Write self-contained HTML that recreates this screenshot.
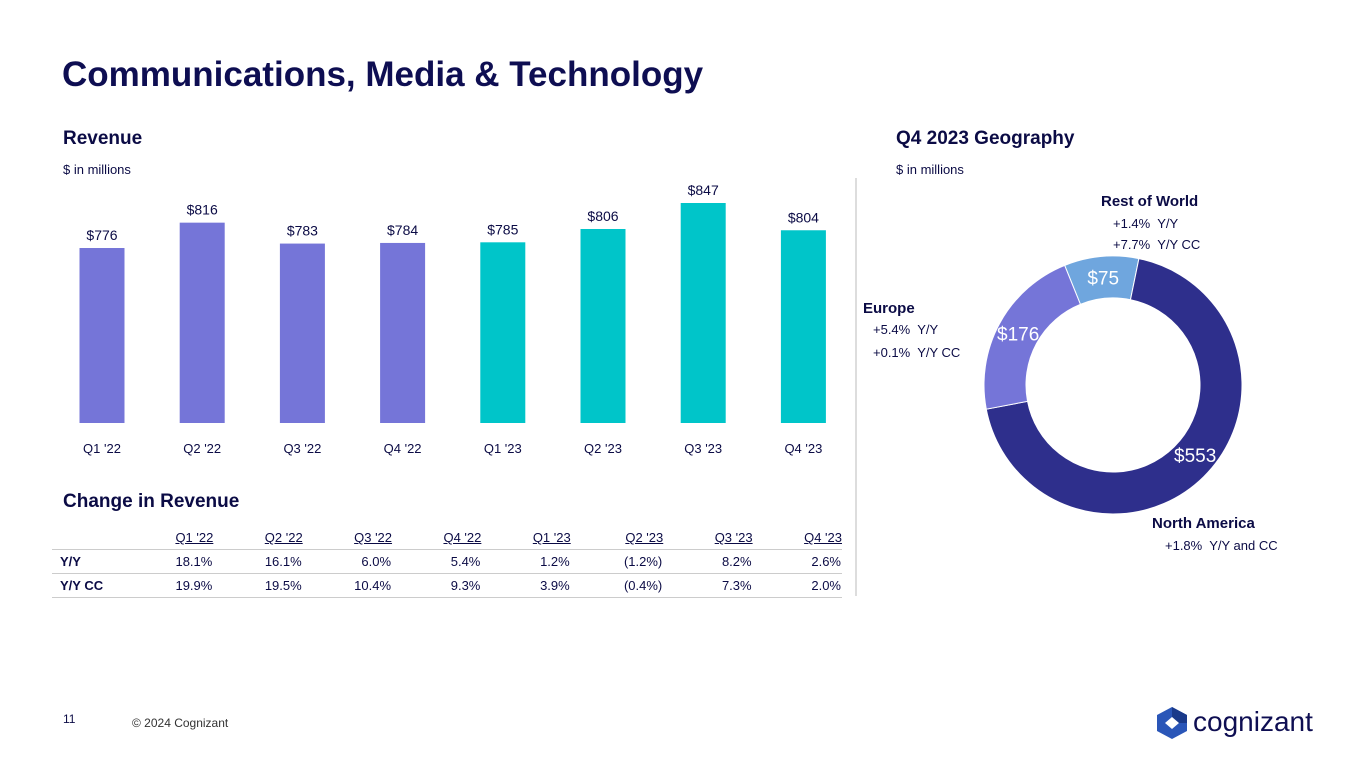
<!DOCTYPE html>
<html><head><meta charset="utf-8">
<style>
body{margin:0;width:1365px;height:768px;background:#fff;font-family:"Liberation Sans",sans-serif;color:#0b0b45;position:relative;overflow:hidden}
.a{position:absolute;white-space:nowrap}
table{border-collapse:collapse;font-size:13px}
</style></head><body>
<div class="a" style="left:62px;top:55px;font-size:35px;font-weight:bold;color:#0e0e52">Communications, Media &amp; Technology</div>
<div class="a" style="left:63px;top:128px;font-size:19px;font-weight:bold">Revenue</div>
<div class="a" style="left:63px;top:162px;font-size:13px">$ in millions</div>
<div class="a" style="left:896px;top:128px;font-size:19px;font-weight:bold">Q4 2023 Geography</div>
<div class="a" style="left:896px;top:162px;font-size:13px">$ in millions</div>
<div class="a" style="left:855px;top:178px;width:2px;height:418px;background:#ddd"></div>

<svg class="a" id="bars" style="left:0;top:0" width="860" height="470"></svg>

<div class="a" style="left:63px;top:491px;font-size:19px;font-weight:bold">Change in Revenue</div>
<table class="a" style="left:52px;top:527px;width:790px">
<tbody id="tb"></tbody></table>

<svg class="a" id="donut" style="left:860px;top:180px" width="505" height="400"></svg>

<div class="a" style="left:1101px;top:193px;font-size:15px;font-weight:bold">Rest of World</div>
<div class="a" style="left:1113px;top:216px;font-size:13px">+1.4%&nbsp; Y/Y</div>
<div class="a" style="left:1113px;top:237px;font-size:13px">+7.7%&nbsp; Y/Y CC</div>
<div class="a" style="left:863px;top:300px;font-size:15px;font-weight:bold">Europe</div>
<div class="a" style="left:873px;top:322px;font-size:13px">+5.4%&nbsp; Y/Y</div>
<div class="a" style="left:873px;top:345px;font-size:13px">+0.1%&nbsp; Y/Y CC</div>
<div class="a" style="left:1152px;top:515px;font-size:15px;font-weight:bold">North America</div>
<div class="a" style="left:1165px;top:538px;font-size:13px">+1.8%&nbsp; Y/Y and CC</div>

<div class="a" style="left:63px;top:712px;font-size:12px">11</div>
<div class="a" style="left:132px;top:716px;font-size:12px;color:#333">© 2024 Cognizant</div>
<div class="a" style="left:1155px;top:706px">
<svg width="34" height="34" viewBox="0 0 34 34"><polygon points="17,1 32,9 32,25 17,33 2,25 2,9" fill="#2a56b8"/><polygon points="17,1 32,9 32,17 17,17" fill="#1a3a8a"/><polygon points="10,17 17,11 24,17 17,23" fill="#fff"/></svg>
<span style="position:absolute;left:38px;top:0;font-size:28px;color:#0e0e52">cognizant</span></div>

<script>
const quarters=["Q1 '22","Q2 '22","Q3 '22","Q4 '22","Q1 '23","Q2 '23","Q3 '23","Q4 '23"];
const revenue=[776,816,783,784,785,806,847,804];
const yy=["18.1%","16.1%","6.0%","5.4%","1.2%","(1.2%)","8.2%","2.6%"];
const yycc=["19.9%","19.5%","10.4%","9.3%","3.9%","(0.4%)","7.3%","2.0%"];
const geoNames=["Rest of World","North America","Europe"];
const geoValues=[75,553,176];
const NS="http://www.w3.org/2000/svg";
function mk(p,t,a){const e=document.createElementNS(NS,t);for(const k in a)e.setAttribute(k,a[k]);p.appendChild(e);return e;}
const bars=document.getElementById('bars');
const base=423,scale=0.634,bw=45;
const y=v=>base-(v-500)*scale;
const x=i=>102+i*100.2;
quarters.forEach((q,i)=>{
  const r=mk(bars,'rect',{x:x(i)-bw/2,y:y(revenue[i]),width:bw,height:base-y(revenue[i]),fill:i<4?'#7575d8':'#00c5c9'});
  
  
  const t=mk(bars,'text',{x:x(i),y:y(revenue[i])-8,'text-anchor':'middle','font-size':14,fill:'#0b0b45','font-family':'Liberation Sans'});
  t.textContent='$'+revenue[i];
  
  
  const l=mk(bars,'text',{x:x(i),y:453,'text-anchor':'middle','font-size':13,fill:'#0b0b45','font-family':'Liberation Sans'});
  l.textContent=q;
  
  
});
const tb=document.getElementById('tb');
let h='<tr style="height:22px;border-bottom:1px solid #ccc"><td style="width:70px"></td>'+quarters.map(q=>'<td style="text-align:right;text-decoration:underline;padding-right:0">'+q+'</td>').join('')+'</tr>';
h+='<tr style="height:24px;border-bottom:1px solid #ccc"><td style="font-weight:bold;padding-left:8px">Y/Y</td>'+yy.map(v=>'<td style="text-align:right">'+v+'</td>').join('')+'</tr>';
h+='<tr style="height:24px;border-bottom:1px solid #ccc"><td style="font-weight:bold;padding-left:8px">Y/Y CC</td>'+yycc.map(v=>'<td style="text-align:right">'+v+'</td>').join('')+'</tr>';
tb.innerHTML=h;
const d=document.getElementById('donut');
const cx=253,cy=205,R=129,r0=87,cols=['#6fa6de','#2e2f8c','#7575d8'];
const tot=geoValues.reduce((a,b)=>a+b,0);
let ang=-22;
function pt(a,rad){const t=(a-90)*Math.PI/180;return [cx+rad*Math.cos(t),cy+rad*Math.sin(t)];}
geoValues.forEach((v,i)=>{
  const sw=v/tot*360,a1=ang,a2=ang+sw,lg=sw>180?1:0;
  const p1=pt(a1,R),p2=pt(a2,R),p3=pt(a2,r0),p4=pt(a1,r0);
  const p=mk(d,'path',{d:`M${p1}A${R},${R} 0 ${lg} 1 ${p2}L${p3}A${r0},${r0} 0 ${lg} 0 ${p4}Z`,fill:cols[i],stroke:'#fff','stroke-width':1});
  
  
  const lp=pt(i==1?a1+sw*0.48:(a1+a2)/2,(R+r0)/2);
  const t=mk(d,'text',{x:lp[0],y:lp[1]+7,'text-anchor':'middle','font-size':19,fill:'#fff','font-family':'Liberation Sans'});
  t.textContent='$'+v;
  
  
  ang=a2;
});
</script>
</body></html>
